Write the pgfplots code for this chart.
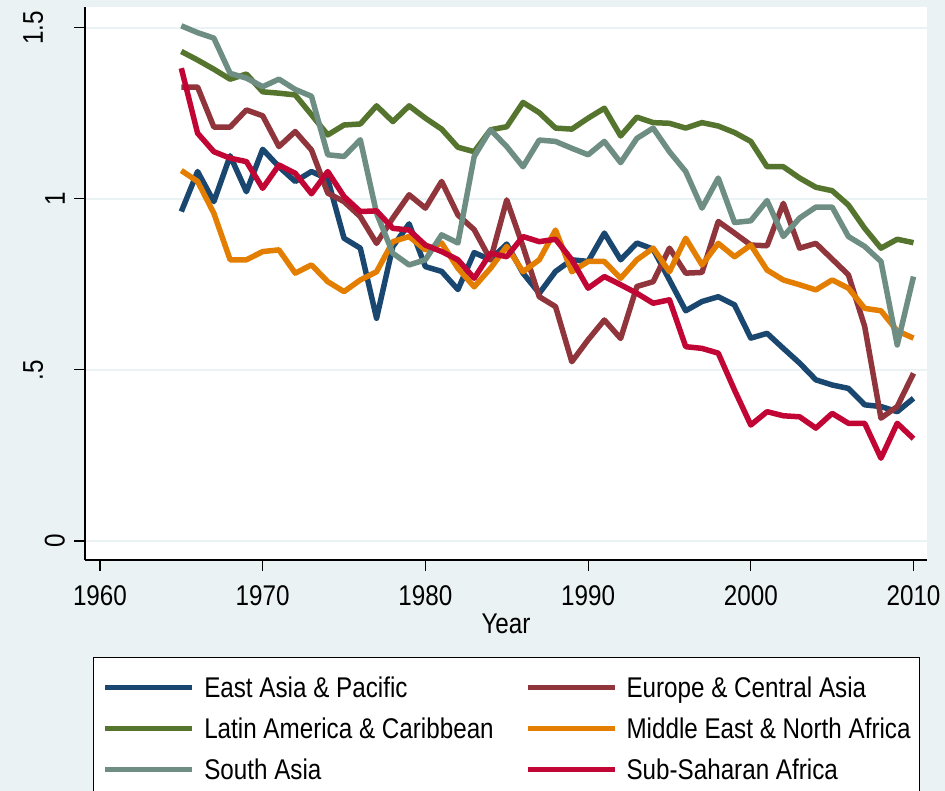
\documentclass[border=0pt]{standalone}
\usepackage{fontspec}
\setmainfont{Liberation Sans}[FakeStretch=0.85]
\usepackage{pgfplots}
\usepackage{pgfplotstable}
\pgfplotsset{compat=1.18}

\definecolor{bgstata}{RGB}{234,242,243}
\definecolor{snavy}{RGB}{26,71,111}
\definecolor{smaroon}{RGB}{144,53,59}
\definecolor{sforest}{RGB}{85,117,47}
\definecolor{sdkorange}{RGB}{227,126,0}
\definecolor{steal}{RGB}{110,142,132}
\definecolor{scranberry}{RGB}{193,5,52}
\newcommand\fs{\fontsize{28.5}{34}\selectfont}

% year, East Asia, Europe, Latin America, Middle East, South Asia, Sub-Saharan
\pgfplotstableread{
year eap eca lac mena sa ssa
1965 0.963 1.327 1.431 1.083 1.506 1.382
1966 1.080 1.327 1.406 1.051 1.486 1.192
1967 0.992 1.210 1.379 0.958 1.470 1.138
1968 1.126 1.210 1.350 0.822 1.367 1.119
1969 1.021 1.260 1.365 0.822 1.353 1.109
1970 1.145 1.243 1.313 0.846 1.328 1.031
1971 1.094 1.153 1.309 0.851 1.350 1.099
1972 1.051 1.197 1.304 0.783 1.320 1.075
1973 1.080 1.143 1.246 0.807 1.300 1.015
1974 1.058 1.017 1.187 0.758 1.129 1.080
1975 0.885 0.992 1.216 0.729 1.124 1.007
1976 0.856 0.948 1.219 0.763 1.173 0.963
1977 0.651 0.870 1.272 0.787 0.958 0.965
1978 0.861 0.944 1.226 0.875 0.841 0.914
1979 0.927 1.012 1.272 0.890 0.807 0.909
1980 0.802 0.973 1.236 0.851 0.822 0.865
1981 0.788 1.051 1.204 0.871 0.895 0.846
1982 0.735 0.953 1.151 0.797 0.871 0.822
1983 0.843 0.910 1.138 0.743 1.124 0.768
1984 0.822 0.822 1.202 0.797 1.202 0.841
1985 0.868 0.997 1.211 0.861 1.153 0.831
1986 0.783 0.861 1.282 0.787 1.094 0.890
1987 0.724 0.714 1.252 0.822 1.172 0.875
1988 0.788 0.685 1.207 0.909 1.168 0.882
1989 0.822 0.524 1.204 0.787 1.148 0.822
1990 0.817 0.588 1.236 0.817 1.129 0.739
1991 0.900 0.646 1.265 0.817 1.168 0.773
1992 0.822 0.592 1.184 0.768 1.106 0.749
1993 0.871 0.744 1.239 0.822 1.177 0.724
1994 0.853 0.758 1.223 0.856 1.207 0.695
1995 0.763 0.856 1.221 0.787 1.138 0.705
1996 0.673 0.783 1.207 0.885 1.080 0.568
1997 0.700 0.785 1.223 0.807 0.973 0.563
1998 0.714 0.934 1.213 0.870 1.061 0.549
1999 0.690 0.900 1.194 0.831 0.931 0.441
2000 0.593 0.865 1.168 0.865 0.936 0.339
2001 0.607 0.863 1.094 0.792 0.995 0.378
2002 0.563 0.987 1.094 0.763 0.890 0.366
2003 0.520 0.856 1.061 0.749 0.944 0.363
2004 0.471 0.870 1.034 0.734 0.976 0.330
2005 0.456 0.824 1.024 0.763 0.976 0.373
2006 0.446 0.778 0.982 0.739 0.890 0.344
2007 0.398 0.627 0.914 0.680 0.861 0.344
2008 0.393 0.359 0.856 0.673 0.817 0.242
2009 0.378 0.393 0.882 0.614 0.573 0.344
2010 0.417 0.490 0.872 0.593 0.773 0.299
}\regions

\begin{document}
\begin{tikzpicture}[font=\fs]
\fill[bgstata] (0,0) rectangle (945pt,791pt);
\useasboundingbox (0,0) rectangle (945pt,791pt);
\begin{axis}[
    at={(85pt,231pt)}, anchor=south west,
    scale only axis,
    width=842pt, height=553pt,
    xmin=1959.08, xmax=2010.83,
    ymin=-0.0556, ymax=1.561,
    axis x line*=bottom, axis y line*=left,
    axis line style={line width=1.3pt, black},
    axis background/.style={fill=white},
    tick align=outside,
    major tick length=11pt,
    tick style={line width=1.1pt, black},
    xtick={1960,1970,1980,1990,2000,2010},
    xticklabels={1960,1970,1980,1990,2000,2010},
    ytick={0,0.5,1,1.5},
    yticklabels={0,\raisebox{22pt}{.5},1,\raisebox{22pt}{1.5}},
    /pgf/number format/assume math mode=true,
    tick label style={font=\fs},
    xticklabel style={anchor=north, inner sep=0pt, yshift=-14pt},
    yticklabel style={xshift=-9pt, rotate=90, anchor=south, inner sep=0pt},
    ymajorgrids,
    grid style={line width=1.5pt, bgstata},
    xlabel={Year},
    xlabel style={font=\fs, at={(axis description cs:0.5,0)}, anchor=base, yshift=-74pt},
    legend columns=2,
    legend cell align=left,
    legend image code/.code={\draw[#1] (0pt,0pt) -- (87pt,0pt); \path[draw=none] (0pt,0pt) -- (99pt,0pt);},
    legend style={at={(0.0095,-0.1754)}, anchor=north west, font=\fs,
        draw=black, line width=1pt, fill=white,
        inner xsep=9pt, inner ysep=15pt, row sep=11pt, column sep=0pt,
        nodes={inner sep=0pt, text height=25pt, text depth=5pt},
        /tikz/every even column/.append style={column sep=31pt}},
    every axis plot/.append style={line width=5.5pt, line join=round, no markers},
]
\addplot[snavy] table[x=year, y=eap] {\regions};
\addplot[smaroon] table[x=year, y=eca] {\regions};
\addplot[sforest] table[x=year, y=lac] {\regions};
\addplot[sdkorange] table[x=year, y=mena] {\regions};
\addplot[steal] table[x=year, y=sa] {\regions};
\addplot[scranberry] table[x=year, y=ssa] {\regions};
\legend{East Asia \& Pacific, Europe \& Central Asia, Latin America \& Caribbean, Middle East \& North Africa, South Asia, Sub-Saharan Africa}
\end{axis}
\end{tikzpicture}
\end{document}
